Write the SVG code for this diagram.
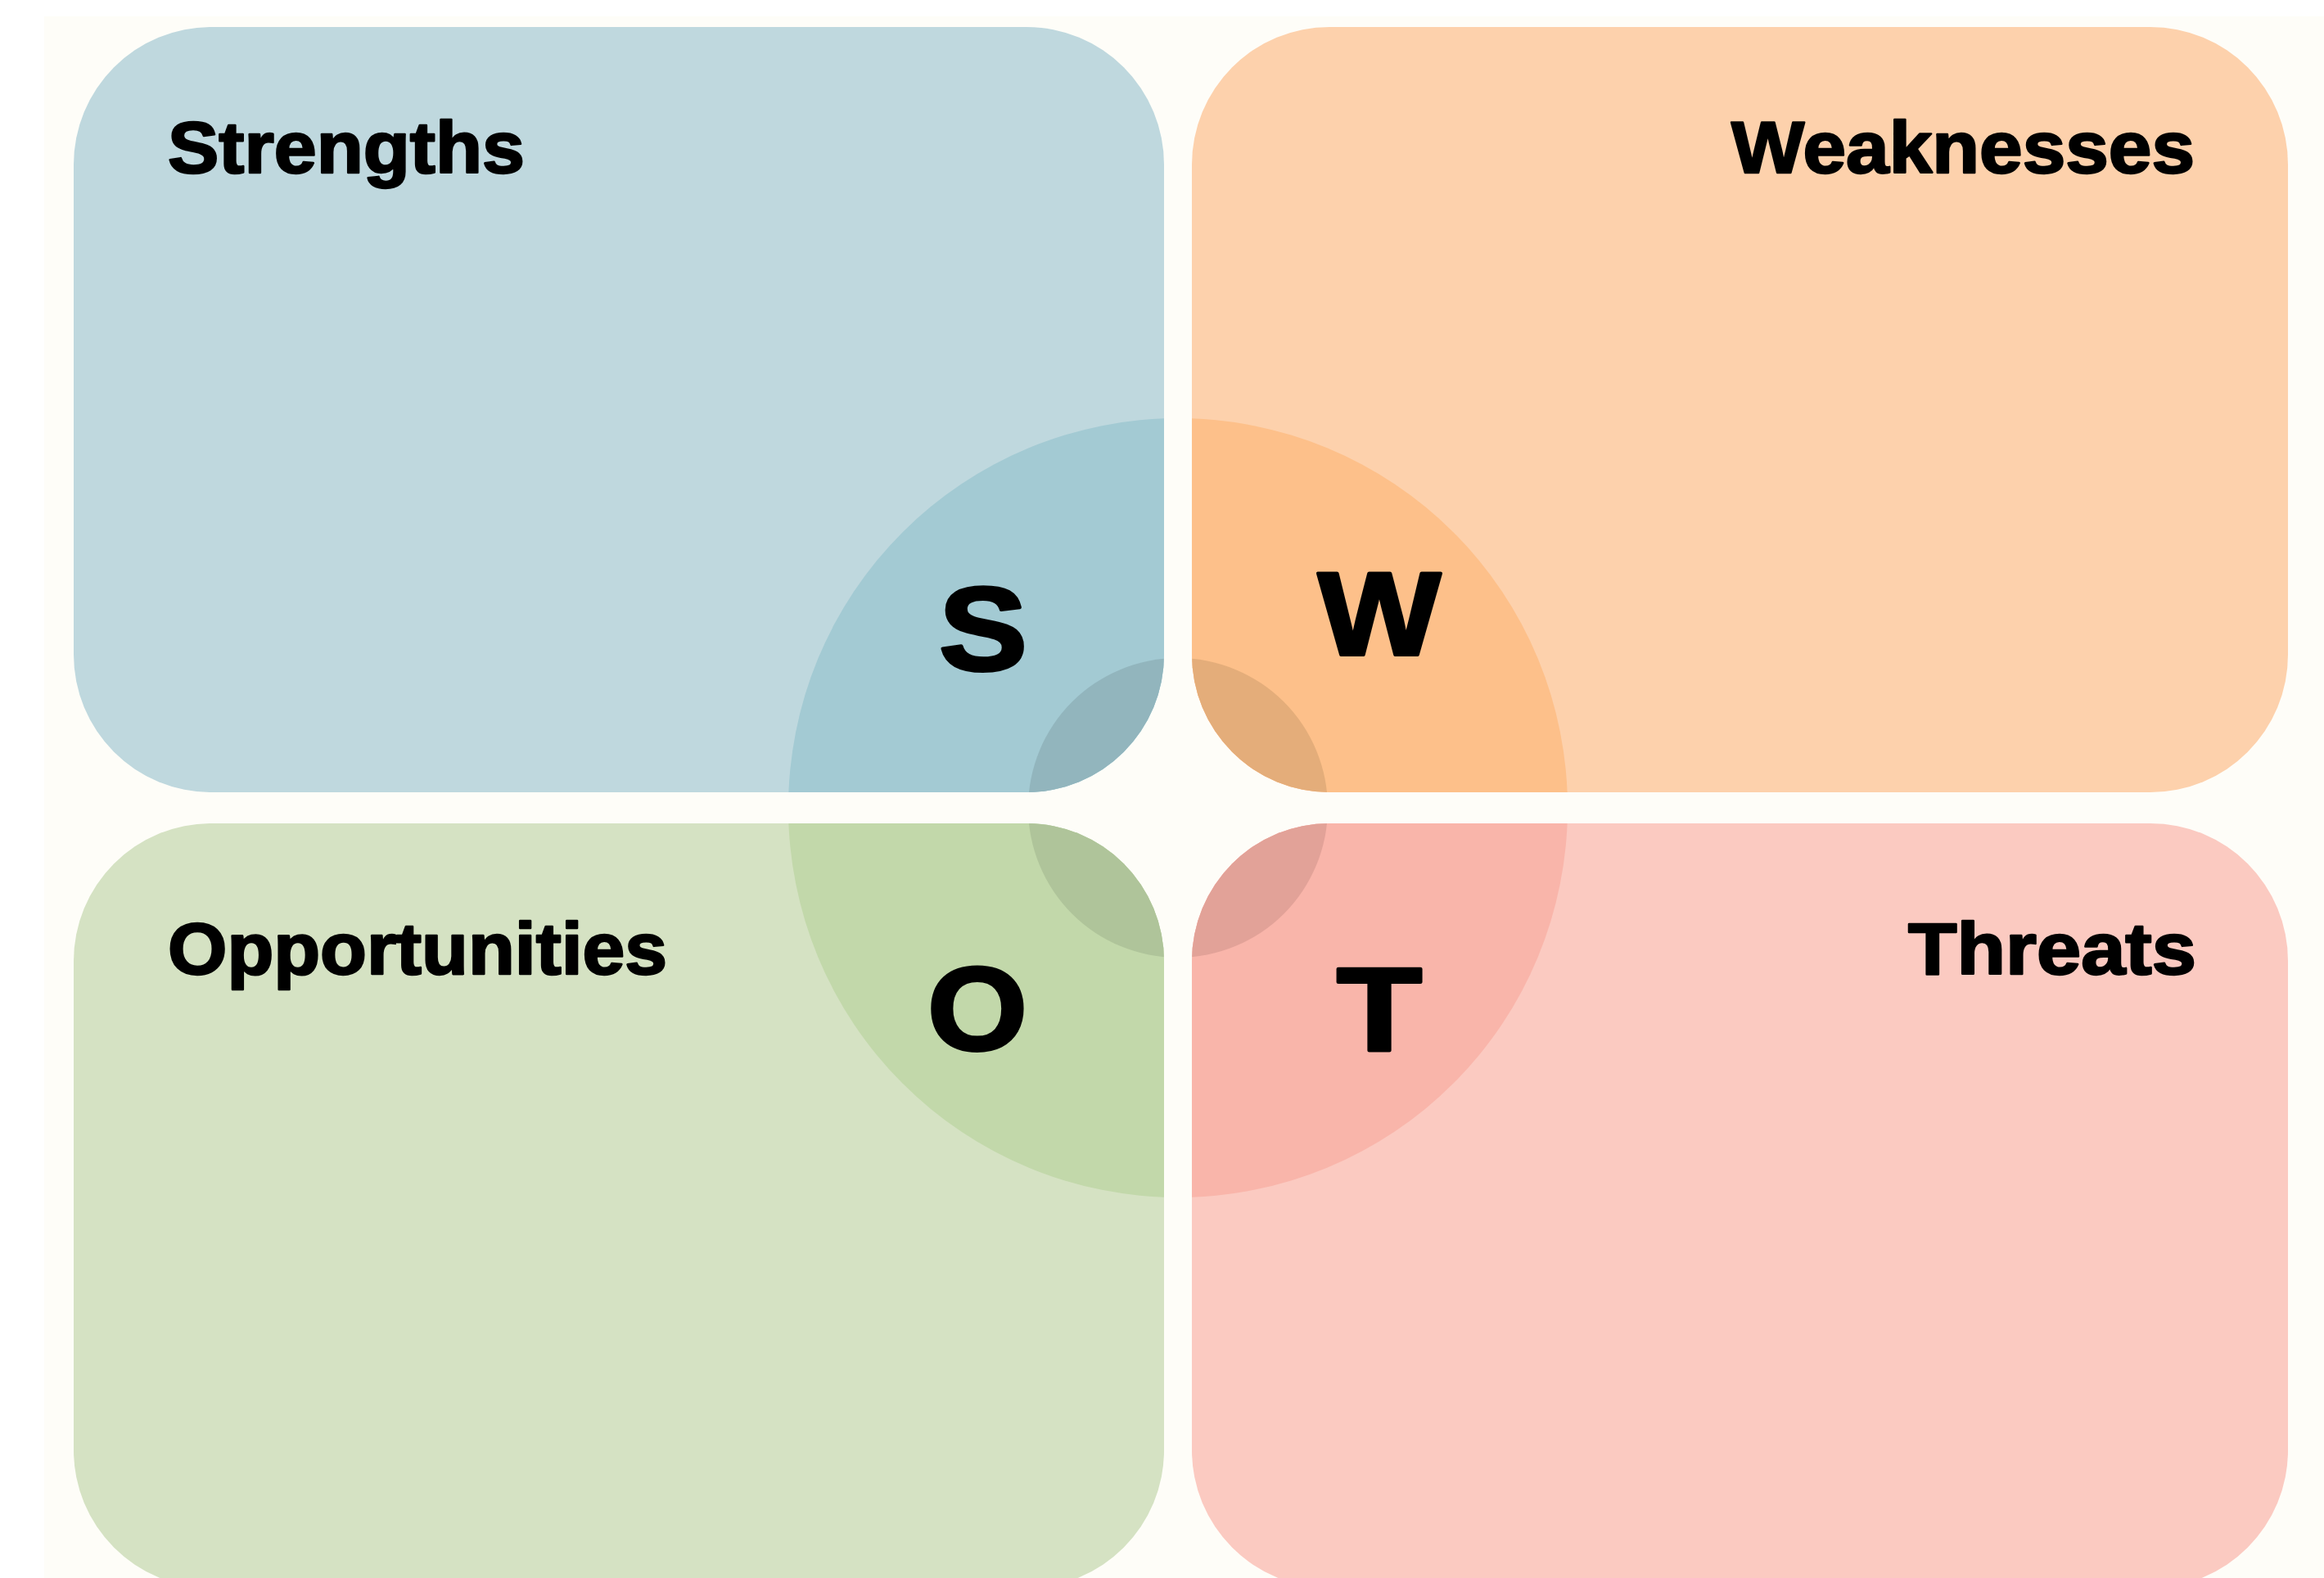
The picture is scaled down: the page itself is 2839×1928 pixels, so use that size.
<svg xmlns="http://www.w3.org/2000/svg" width="2839" height="1928" viewBox="0 0 2839 1928">
  <style>
    .label { font-family: "Liberation Sans", Arial, sans-serif; font-weight: bold; font-size: 89px; fill: #000; stroke: #000; stroke-width: 2.5px; stroke-linejoin: round; }
    .letter { font-family: "Liberation Sans", Arial, sans-serif; font-weight: bold; font-size: 144px; fill: #000; stroke: #000; stroke-width: 4px; stroke-linejoin: round; }
  </style>
  <defs>
    <clipPath id="clipS"><rect x="90" y="33" width="1332" height="935" rx="168" ry="168"/></clipPath>
    <clipPath id="clipW"><rect x="1456" y="33" width="1339" height="935" rx="168" ry="168"/></clipPath>
    <clipPath id="clipO"><rect x="90" y="1006" width="1332" height="934" rx="168" ry="168"/></clipPath>
    <clipPath id="clipT"><rect x="1456" y="1006" width="1339" height="934" rx="168" ry="168"/></clipPath>
  </defs>
  <rect x="0" y="0" width="2839" height="1928" fill="#ffffff"/>
  <rect x="54" y="20" width="2785" height="1908" fill="#fefdf8"/>

  <g id="strengths">
    <rect x="90" y="33" width="1332" height="935" rx="168" ry="168" fill="#bfd8de"/>
    <g clip-path="url(#clipS)">
      <circle cx="1439" cy="987" r="476" fill="#a3cad3"/>
      <circle cx="1439" cy="987" r="183" fill="#92b5bd"/>
    </g>
    <text class="label" x="205" y="211" textLength="436" lengthAdjust="spacingAndGlyphs">Strengths</text>
    <text class="letter" x="1147" y="819" textLength="108" lengthAdjust="spacingAndGlyphs">S</text>
  </g>

  <g id="weaknesses">
    <rect x="1456" y="33" width="1339" height="935" rx="168" ry="168" fill="#fdd1ac"/>
    <g clip-path="url(#clipW)">
      <circle cx="1439" cy="987" r="476" fill="#fdc08a"/>
      <circle cx="1439" cy="987" r="183" fill="#e4ad7a"/>
    </g>
    <text class="label" x="2115" y="211" textLength="566" lengthAdjust="spacingAndGlyphs">Weaknesses</text>
    <text class="letter" x="1610" y="800" textLength="150" lengthAdjust="spacingAndGlyphs">W</text>
  </g>

  <g id="opportunities">
    <rect x="90" y="1006" width="1332" height="934" rx="168" ry="168" fill="#d5e2c3"/>
    <g clip-path="url(#clipO)">
      <circle cx="1439" cy="987" r="476" fill="#c2d8aa"/>
      <circle cx="1439" cy="987" r="183" fill="#afc49a"/>
    </g>
    <text class="label" x="205" y="1190" textLength="610" lengthAdjust="spacingAndGlyphs">Opportunities</text>
    <text class="letter" x="1133" y="1283" textLength="122" lengthAdjust="spacingAndGlyphs">O</text>
  </g>

  <g id="threats">
    <rect x="1456" y="1006" width="1339" height="934" rx="168" ry="168" fill="#fbcac1"/>
    <g clip-path="url(#clipT)">
      <circle cx="1439" cy="987" r="476" fill="#f9b5aa"/>
      <circle cx="1439" cy="987" r="183" fill="#e2a298"/>
    </g>
    <text class="label" x="2331" y="1190" textLength="352" lengthAdjust="spacingAndGlyphs">Threats</text>
    <text class="letter" x="1633" y="1284" textLength="104" lengthAdjust="spacingAndGlyphs">T</text>
  </g>
</svg>
